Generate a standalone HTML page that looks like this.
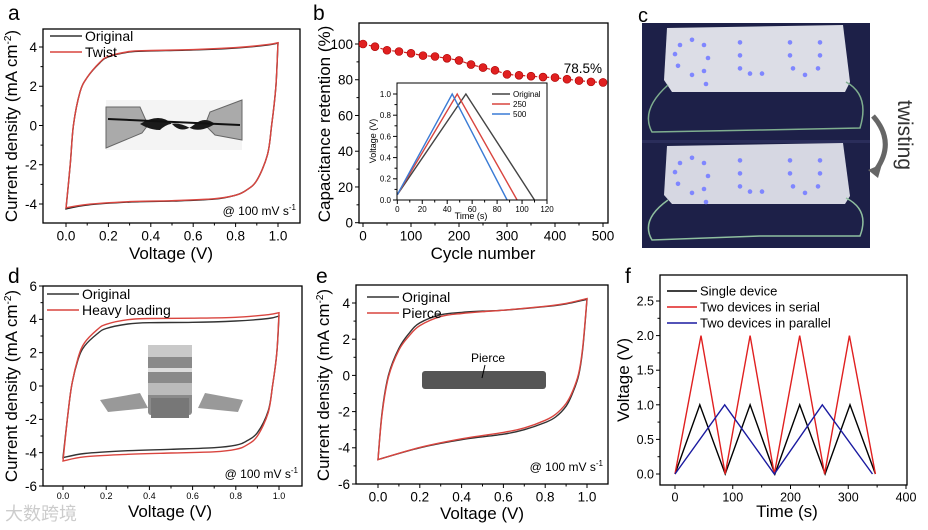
<!DOCTYPE html>
<html><head><meta charset="utf-8"><style>
body{margin:0;background:#fff}
svg{display:block;font-family:"Liberation Sans",Arial,sans-serif}
</style></head><body>
<svg id="fig" width="928" height="530" viewBox="0 0 928 530" xmlns="http://www.w3.org/2000/svg">
<rect width="928" height="530" fill="#fff"/>
<g>
<rect x="642" y="23" width="228" height="225" fill="#1d2048"/>
<rect x="642" y="140" width="228" height="3" fill="#2a2d5a"/>
<path d="M667,28 L843,25 L850,82 L845,92 L672,92 L664,80 Z" fill="#dcdde6"/>
<path d="M667,146 L843,143 L850,196 L845,204 L672,204 L664,195 Z" fill="#d6d7e2"/>
<path d="M668,85 Q640,110 652,132 L760,130 L860,128 Q870,95 846,82" fill="none" stroke="#7fae8f" stroke-width="1.5"/>
<path d="M668,200 Q640,220 652,240 L760,236 L860,236 Q870,210 846,198" fill="none" stroke="#8fbf9f" stroke-width="1.5"/>
<text x="638" y="22" font-size="20">c</text>
<text transform="translate(898,100) rotate(90)" font-size="21" fill="#333">twisting</text>
<path d="M873,116 Q896,142 876,170" fill="none" stroke="#666" stroke-width="5"/>
<polygon points="868,170 882,164 878,178" fill="#666"/>
</g>
<g id="leds"></g>
</svg>
<script>
// ---------- data ----------
const aFwdV=[0,0.02,0.035,0.066,0.1,0.16,0.2,0.3,0.4,0.6,0.8,0.95,1.0];
const aFwdOrig=[-4.25,-2.0,0,1.7,2.45,3.2,3.5,3.75,3.8,3.85,3.95,4.1,4.2];
const aRevV=[1.0,0.99,0.97,0.95,0.9,0.85,0.8,0.7,0.5,0.3,0.1,0];
const aRevOrig=[4.2,2.0,0,-1.5,-2.8,-3.3,-3.55,-3.75,-3.85,-3.9,-4.05,-4.25];
const aFwdTwist=[-4.2,-2.0,0,1.7,2.45,3.22,3.52,3.77,3.82,3.87,3.97,4.12,4.22];
const aRevTwist=[4.22,2.0,0,-1.5,-2.8,-3.3,-3.55,-3.73,-3.83,-3.88,-4.02,-4.2];
const bCycles=[0,25,50,75,100,125,150,175,200,225,250,275,300,325,350,375,400,425,450,475,500];
const bRetention=[100,98.5,96.5,95.8,94.8,93.5,93,92,90.8,88.5,86.8,85.3,83,82.5,82,81.5,81.2,80.3,79.5,78.8,78.5];
const insetNames=["Original","250","500"];
const insetPeakT=[55,48,44];
const insetEndT=[110,96,88];
const dFwdV=[0,0.02,0.04,0.07,0.1,0.16,0.2,0.3,0.4,0.6,0.8,0.95,1.0];
const dFwdOrig=[-4.3,-2.0,0,1.6,2.4,3.15,3.45,3.72,3.8,3.82,3.9,4.05,4.2];
const dRevV=[1.0,0.99,0.97,0.95,0.9,0.85,0.8,0.7,0.5,0.3,0.1,0];
const dRevOrig=[4.2,2.0,0,-1.5,-2.8,-3.3,-3.55,-3.7,-3.8,-3.88,-4.05,-4.3];
const dFwdHeavy=[-4.5,-2.0,0,1.7,2.6,3.4,3.7,3.98,4.05,4.07,4.12,4.28,4.4];
const dRevHeavy=[4.4,2.0,0,-1.6,-3.0,-3.55,-3.8,-3.95,-4.02,-4.1,-4.25,-4.5];
const eFwdV=[0,0.02,0.05,0.1,0.15,0.2,0.3,0.4,0.5,0.6,0.8,0.9,1.0];
const eFwdOrig=[-4.65,-2.0,0,1.5,2.35,2.9,3.35,3.48,3.55,3.6,3.8,3.95,4.2];
const eFwdPierce=[-4.65,-2.1,-0.1,1.4,2.2,2.75,3.25,3.42,3.52,3.6,3.82,3.98,4.25];
const eRevV=[1.0,0.98,0.96,0.93,0.9,0.85,0.8,0.7,0.6,0.4,0.2,0];
const eRevOrig=[4.2,1.5,0,-1.0,-1.7,-2.3,-2.6,-3.0,-3.25,-3.55,-4.0,-4.65];
const eRevPierce=[4.25,1.6,0.1,-0.9,-1.55,-2.15,-2.48,-2.9,-3.15,-3.5,-3.98,-4.65];
const fSingleT=[0,43,87,130,173,216,260,303,347];
const fSingleV=[0,1,0,1,0,1,0,1,0];
const fSerialT=[0,45,87,130,172,216,259,302,347];
const fSerialV=[0,2,0,2,0,2,0,2,0];
const fParallelT=[0,86,172,255,342];
const fParallelV=[0,1,0,1,0];
const cvVoltTicks=[0,0.2,0.4,0.6,0.8,1.0];
const aCurrTicks=[-4,-2,0,2,4];
const bCycleTicks=[0,100,200,300,400,500];
const bRetTicks=[0,20,40,60,80,100];
const insetTimeTicks=[0,20,40,60,80,100,120];
const insetVoltTicks=[0,0.2,0.4,0.6,0.8,1.0];
const dCurrTicks=[-6,-4,-2,0,2,4,6];
const eCurrTicks=[-6,-4,-2,0,2,4];
const fTimeTicks=[0,100,200,300,400];
const fVoltTicks=[0,0.5,1.0,1.5,2.0,2.5];

// ---------- helpers ----------
const NS="http://www.w3.org/2000/svg";
const svg=document.getElementById('fig');
function mk(tag,attrs,parent,text){const e=document.createElementNS(NS,tag);for(const k in attrs)e.setAttribute(k,attrs[k]);if(text!==undefined)e.textContent=text;(parent||svg).appendChild(e);return e;}
function lin(d0,d1,r0,r1){return function(v){return r0+(v-d0)*(r1-r0)/(d1-d0);};}
function pathFrom(xs,ys,sx,sy){return xs.map((v,i)=>(i?'L':'M')+sx(v).toFixed(1)+','+sy(ys[i]).toFixed(1)).join(' ');}
function smoothSeg(xs,ys,sx,sy,move){
  const P=xs.map((v,i)=>[sx(v),sy(ys[i])]);
  let d=(move?'M':'L')+P[0][0].toFixed(1)+','+P[0][1].toFixed(1);
  for(let i=0;i<P.length-1;i++){
    const p0=P[Math.max(0,i-1)],p1=P[i],p2=P[i+1],p3=P[Math.min(P.length-1,i+2)];
    const c1=[p1[0]+(p2[0]-p0[0])/6,p1[1]+(p2[1]-p0[1])/6];
    const c2=[p2[0]-(p3[0]-p1[0])/6,p2[1]-(p3[1]-p1[1])/6];
    d+=` C${c1[0].toFixed(1)},${c1[1].toFixed(1)} ${c2[0].toFixed(1)},${c2[1].toFixed(1)} ${p2[0].toFixed(1)},${p2[1].toFixed(1)}`;
  }
  return d;
}
function fmt(d){return function(v){return v.toFixed(d);};}

function drawAxes(g,box,sx,sy,xTicks,yTicks,xf,yf,fs,xfs,sw){
  mk('rect',{x:box[0],y:box[1],width:box[2]-box[0],height:box[3]-box[1],fill:'none',stroke:'#000','stroke-width':sw},g);
  for(let i=0;i<xTicks.length;i++){
    const xv=xTicks[i];const px=sx(xv);
    const tk=mk('line',{x1:px,y1:box[3],x2:px,y2:box[3]+4,stroke:'#000','stroke-width':1},g);
    
    const lb=mk('text',{x:px,y:box[3]+xfs+4,'font-size':xfs,'text-anchor':'middle'},g,xf(xv));
    
    if(i<xTicks.length-1){const pm=sx((xv+xTicks[i+1])/2);mk('line',{x1:pm,y1:box[3],x2:pm,y2:box[3]+2.5,stroke:'#000'},g);}
  }
  for(let j=0;j<yTicks.length;j++){
    const yv=yTicks[j];const py=sy(yv);
    const tk=mk('line',{x1:box[0],y1:py,x2:box[0]-4,y2:py,stroke:'#000','stroke-width':1},g);
    
    const lb=mk('text',{x:box[0]-6,y:py+fs*0.36,'font-size':fs,'text-anchor':'end'},g,yf(yv));
    
    if(j<yTicks.length-1){const pm=sy((yv+yTicks[j+1])/2);mk('line',{x1:box[0],y1:pm,x2:box[0]-2.5,y2:pm,stroke:'#000'},g);}
  }
}
function legend(g,x,y,items,fs,gap,len){
  items.forEach((it,i)=>{
    const yy=y+i*gap;
    const ln=mk('line',{x1:x,y1:yy,x2:x+len,y2:yy,stroke:it[1],'stroke-width':1.5},g);
    
    const t=mk('text',{x:x+len+3,y:yy+fs*0.36,'font-size':fs},g,it[0]);
    
  });
}
function ytitle(g,x,y,txt,fs){const t=mk('text',{transform:`translate(${x},${y}) rotate(-90)`,'font-size':fs,'text-anchor':'middle'},g);
  t.innerHTML=txt;return t;}
function xtitle(g,x,y,txt,fs){const t=mk('text',{x:x,y:y,'font-size':fs,'text-anchor':'middle'},g,txt);
  return t;}
function label(g,x,y,txt){const t=mk('text',{x:x,y:y,'font-size':21},g,txt);
  }
function cv(g,sx,sy,fv,fy,rv,ry,color,name){
  const d=smoothSeg(fv,fy,sx,sy,true)+' '+smoothSeg(rv,ry,sx,sy,false)+' Z';
  const p=mk('path',{d:d,fill:'none',stroke:color,'stroke-width':1.4},g);
  }
function note(g,x,y){const an=mk('text',{x:x,y:y,'font-size':12,'text-anchor':'end'},g);an.innerHTML='@ 100 mV s<tspan dy="-5" font-size="8">-1</tspan>';
 }
const CDTXT='Current density (mA cm<tspan dy="-6" font-size="10">-2</tspan><tspan dy="6">)</tspan>';

// ---------- panel a ----------
{const g=mk('g',{});
 const sx=lin(0,1,66,278), sy=lin(4,-4,47,204);
 mk('rect',{x:106,y:100,width:136,height:50,fill:'#f4f4f4'},g);
 mk('path',{d:'M106,107 L140,107 L148,125 L142,133 L106,148 Z',fill:'#aaa',stroke:'#666'},g);
 mk('path',{d:'M242,100 L210,112 L205,125 L215,135 L242,140 Z',fill:'#aaa',stroke:'#666'},g);
 mk('path',{d:'M140,124 Q160,112 172,124 Q182,135 195,124 Q205,116 215,124 Q200,133 190,128 Q172,118 160,130 Q150,130 140,124Z',fill:'#1a1a1a'},g);
 mk('line',{x1:108,y1:119,x2:240,y2:125,stroke:'#111','stroke-width':2},g);
 cv(g,sx,sy,aFwdV,aFwdOrig,aRevV,aRevOrig,'#222','series-original');
 cv(g,sx,sy,aFwdV,aFwdTwist,aRevV,aRevTwist,'#d9453f','series-twist');
 drawAxes(g,[43,29,300,223],sx,sy,cvVoltTicks,aCurrTicks,fmt(1),fmt(0),13.5,13.5,1.3);
 legend(g,50,36,[['Original','#333'],['Twist','#d9453f']],14,16,32);
 note(g,296,215);
 ytitle(g,17,126,CDTXT,17);xtitle(g,171,259,'Voltage (V)',17);label(g,8,20,'a');}

// ---------- panel b ----------
{const g=mk('g',{});
 const sx=lin(0,500,363,603), sy=lin(0,100,222.7,44);
 drawAxes(g,[359,23,608,223],sx,sy,bCycleTicks,bRetTicks,fmt(0),fmt(0),13.5,13.5,1.3);
 const ln=mk('path',{d:pathFrom(bCycles,bRetention,sx,sy),fill:'none',stroke:'#c22','stroke-width':1.2,'stroke-dasharray':'4,2'},g);
 
 bCycles.forEach((c,i)=>{const p=mk('circle',{cx:sx(c),cy:sy(bRetention[i]),r:4,fill:'#e02020',stroke:'#a00','stroke-width':0.6},g);
   });
 const lb=mk('text',{x:602,y:73,'font-size':13.5,'text-anchor':'end'},g,bRetention[bRetention.length-1]+'%');
 
 ytitle(g,330,124,'Capacitance retention (%)',17);xtitle(g,483,259,'Cycle number',17);label(g,313,20,'b');
 const ig=mk('g',{},g);
 const ix=lin(0,120,397.3,547), iy=lin(0,1,200,94);
 mk('rect',{x:397,y:83,width:150,height:117,fill:'#fff'},ig);
 const cols=['#444','#d9453f','#3a7bd5'];
 insetNames.forEach((n,i)=>{const p=mk('path',{d:pathFrom([0,insetPeakT[i],insetEndT[i]],[0.05,1,0],ix,iy),fill:'none',stroke:cols[i],'stroke-width':1.4},ig);
   });
 drawAxes(ig,[397,83,547,200],ix,iy,insetTimeTicks,insetVoltTicks,fmt(0),fmt(1),8,8,1);
 legend(ig,492,94,insetNames.map((n,i)=>[n,cols[i]]),8,10,18);
 ytitle(ig,376,141,'Voltage (V)',9);xtitle(ig,471,219,'Time (s)',9);}

// ---------- panel d ----------
{const g=mk('g',{});
 const sx=lin(0,1,63,279), sy=lin(6,-6,286,486);
 mk('path',{d:'M100,400 L140,393 L148,408 L108,412 Z',fill:'#999'},g);
 mk('path',{d:'M243,400 L205,393 L198,408 L238,412 Z',fill:'#999'},g);
 mk('rect',{x:148,y:345,width:44,height:70,fill:'#8a8a8a',rx:3},g);
 mk('rect',{x:148,y:345,width:44,height:12,fill:'#c9c9c9'},g);
 mk('rect',{x:148,y:368,width:44,height:4,fill:'#ddd'},g);
 mk('rect',{x:148,y:383,width:44,height:12,fill:'#bbb'},g);
 mk('rect',{x:151,y:398,width:38,height:20,fill:'#777'},g);
 cv(g,sx,sy,dFwdV,dFwdOrig,dRevV,dRevOrig,'#333','series-original');
 cv(g,sx,sy,dFwdV,dFwdHeavy,dRevV,dRevHeavy,'#d9453f','series-heavy-loading');
 drawAxes(g,[43,286,302,486],sx,sy,cvVoltTicks,dCurrTicks,fmt(1),fmt(0),13.5,9,1.3);
 legend(g,47,294,[['Original','#333'],['Heavy loading','#d9453f']],14,16,32);
 note(g,298,478);
 ytitle(g,17,386,CDTXT,17);xtitle(g,170,517,'Voltage (V)',17);label(g,8,283,'d');
 const wm=mk('text',{x:5,y:520,'font-size':18,fill:'#ccc','font-family':'"Liberation Sans","Noto Sans CJK SC",sans-serif'},g,'大数跨境');
 }

// ---------- panel e ----------
{const g=mk('g',{});
 const sx=lin(0,1,378,587), sy=lin(4,-6,303,484);
 mk('rect',{x:422,y:371,width:124,height:18,fill:'#555',rx:3},g);
 const pt=mk('text',{x:488,y:362,'font-size':12,'text-anchor':'middle'},g,'Pierce');
 
 mk('line',{x1:485,y1:365,x2:482,y2:378,stroke:'#000'},g);
 cv(g,sx,sy,eFwdV,eFwdOrig,eRevV,eRevOrig,'#333','series-original');
 cv(g,sx,sy,eFwdV,eFwdPierce,eRevV,eRevPierce,'#d9453f','series-pierce');
 drawAxes(g,[356,285,608,484],sx,sy,cvVoltTicks,eCurrTicks,fmt(1),fmt(0),13.5,13.5,1.3);
 legend(g,367,297,[['Original','#333'],['Pierce','#d9453f']],14,16,32);
 note(g,603,471);
 ytitle(g,329,385,CDTXT,17);xtitle(g,482,519,'Voltage (V)',17);label(g,316,283,'e');}

// ---------- panel f ----------
{const g=mk('g',{});
 const sx=lin(0,400,675,906), sy=lin(0,2.5,474,301);
 const series=[[fSingleT,fSingleV,'#000','series-single-device'],[fSerialT,fSerialV,'#e02020','series-two-serial'],[fParallelT,fParallelV,'#1a1aa0','series-two-parallel']];
 series.forEach(s=>{const p=mk('path',{d:pathFrom(s[0],s[1],sx,sy),fill:'none',stroke:s[2],'stroke-width':1.4},g);
   });
 drawAxes(g,[660,275,907,485],sx,sy,fTimeTicks,fVoltTicks,fmt(0),fmt(1),12.5,12.5,1.3);
 legend(g,667,291,[['Single device','#000'],['Two devices in serial','#e02020'],['Two devices in parallel','#1a1aa0']],13,16,30);
 ytitle(g,629,380,'Voltage (V)',17);xtitle(g,787,517,'Time (s)',17);label(g,625,283,'f');}

{const g=document.getElementById('leds');
 const rows=[32,150];
 const pts=[[0,10],[12,6],[24,10],[28,20],[24,30],[12,33],[-2,26],[-5,17],[26,40],
            [60,8],[60,18],[60,28],[70,32],[82,32],
            [110,8],[110,18],[113,28],[125,33],[138,28],[140,18],[140,8]];
 rows.forEach(r=>{
  pts.forEach(p=>{const c=mk('circle',{cx:680+p[0],cy:r+p[1]*1.3,r:2.3,fill:'#7f86ff'},g);
   });
 });}
</script>
</body></html>
